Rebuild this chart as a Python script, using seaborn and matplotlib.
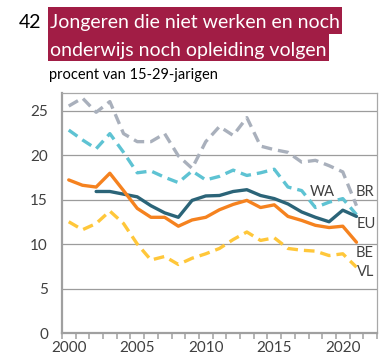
import numpy as np
import pandas as pd
import matplotlib
matplotlib.use("Agg")
import matplotlib.pyplot as plt
from matplotlib.ticker import FixedLocator
from matplotlib.patches import Rectangle
import seaborn as sns

# Aandeel jongeren (15-29 jaar) dat niet werkt en geen onderwijs of opleiding volgt, in %
years = list(range(2000, 2022))
br = [25.5, 26.4, 24.8, 26.0, 22.4, 21.5, 21.5, 22.4, 19.9, 18.5, 21.5, 23.2,
      22.2, 24.2, 21.0, 20.6, 20.3, 19.2, 19.4, 18.8, 18.1, 14.3]
wa = [22.8, 21.7, 20.7, 22.4, 20.3, 18.0, 18.2, 17.5, 16.9, 18.2, 17.2, 17.6,
      18.3, 17.7, 18.0, 18.4, 16.4, 16.0, 14.1, 14.7, 15.1, 13.3]
eu = [np.nan, np.nan, 15.9, 15.9, 15.6, 15.3, 14.3, 13.5, 13.0, 14.9, 15.4, 15.45,
      15.9, 16.1, 15.45, 15.1, 14.5, 13.6, 13.0, 12.5, 13.8, 13.1]
be = [17.2, 16.6, 16.4, 17.95, 16.0, 14.0, 13.0, 13.0, 12.0, 12.7, 13.0, 13.85,
      14.45, 14.9, 14.1, 14.4, 13.1, 12.65, 12.1, 11.85, 12.0, 10.2]
vl = [12.5, 11.6, 12.3, 13.7, 12.3, 10.0, 8.2, 8.6, 7.7, 8.4, 8.9, 9.5,
      10.5, 11.35, 10.4, 10.7, 9.5, 9.3, 9.2, 8.7, 8.9, 7.4]

series_names = ["BR", "WA", "EU", "BE", "VL"]
series_values = [br, wa, eu, be, vl]
xtick_labels = ["2000", "2005", "2010", "2015", "2020"]

palette = {"BR": "#A9B0BC", "WA": "#5EC3D3", "EU": "#2B6478",
           "BE": "#F5821F", "VL": "#FFC73A"}
dashes = {"BR": (3.2, 1.8), "WA": (3.2, 1.8), "EU": "",
          "BE": "", "VL": (3.2, 1.8)}

df = pd.DataFrame(
    [(y, name, v) for name, vals in zip(series_names, series_values)
     for y, v in zip(years, vals)],
    columns=["jaar", "reeks", "waarde"],
).dropna()

sns.set_theme(style="white")
plt.rcParams["font.family"] = ["Lato", "DejaVu Sans"]

W, H = 382, 356
fig = plt.figure(figsize=(W / 100, H / 100), dpi=100)
ax = fig.add_axes([0.162, 0.0646, 0.825, 0.675])

sns.lineplot(data=df, x="jaar", y="waarde", hue="reeks", style="reeks",
             hue_order=series_names, style_order=series_names,
             palette=palette, dashes=dashes, linewidth=2.4,
             legend=False, ax=ax)

ax.set_xlim(1999.5, 2022.5)
ax.set_ylim(0, 27)
ax.set_xlabel("")
ax.set_ylabel("")

# horizontal gridlines
ax.set_yticks([0, 5, 10, 15, 20, 25])
for yv in [5, 10, 15, 20, 25]:
    ax.axhline(yv, color="#9C9C9C", lw=0.9, zorder=0)

ax.set_xticks([int(t) for t in xtick_labels])
ax.set_xticklabels(xtick_labels)
ax.xaxis.set_minor_locator(FixedLocator(np.arange(1999.5, 2023, 1.0)))
ax.tick_params(axis="x", which="major", length=0, pad=6,
               labelsize=11, labelcolor="#404040")
ax.tick_params(axis="x", which="minor", bottom=True, length=4, width=1.1,
               color="#A0A0A0", direction="out")
ax.tick_params(axis="y", which="major", left=False, length=0, pad=10,
               labelsize=11, labelcolor="#404040")

for side in ["left", "bottom"]:
    ax.spines[side].set_color("#A0A0A0")
    ax.spines[side].set_linewidth(1.6)
for side in ["top", "right"]:
    ax.spines[side].set_color("#A8A8A8")
    ax.spines[side].set_linewidth(0.9)

# line labels
label_pos = {"WA": (2018.5, 15.8), "BR": (2021.6, 15.8), "EU": (2021.7, 12.3),
             "BE": (2021.6, 9.0), "VL": (2021.7, 6.8)}
for name, (lx, ly) in label_pos.items():
    ax.text(lx, ly, name, ha="center", va="center", fontsize=10.5,
            color="#404040")

# heading: number, two highlighted title lines, subtitle
title_bg = "#A11D45"
fig.text(0.048, 0.921, "42", fontsize=14, color="black",
         ha="left", va="baseline")
title_lines = ["Jongeren die niet werken en noch",
               "onderwijs noch opleiding volgen"]
baselines = [0.921, 0.843]
band_px = [(7, 33.5), (33.5, 61)]  # vertical extent of each highlight band (px from top)
renderer = fig.canvas.get_renderer()
for line, yb, (top_px, bot_px) in zip(title_lines, baselines, band_px):
    t = fig.text(0.132, yb, line, fontsize=14, color="white",
                 ha="left", va="baseline", zorder=3)
    ext = t.get_window_extent(renderer)
    x0 = (ext.x0 - 2) / W
    x1 = (ext.x1 + 2) / W
    y0 = (H - bot_px) / H
    y1 = (H - top_px) / H
    fig.patches.append(Rectangle((x0, y0), x1 - x0, y1 - y0,
                                 transform=fig.transFigure, fc=title_bg,
                                 ec="none", zorder=1))
fig.text(0.128, 0.779, "procent van 15-29-jarigen", fontsize=10.5,
         color="black", ha="left", va="baseline")

fig.savefig("out.png", dpi=100)
